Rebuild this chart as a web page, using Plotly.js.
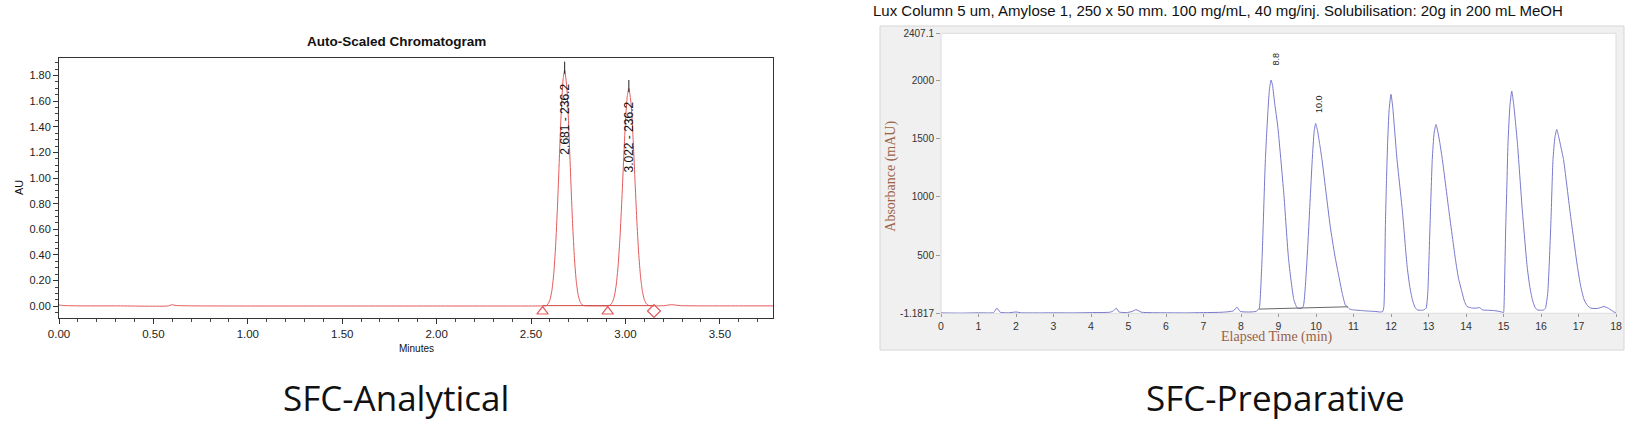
<!DOCTYPE html>
<html>
<head>
<meta charset="utf-8">
<script src="https://cdn.plot.ly/plotly-3.0.1.min.js"></script>
<style>
html,body{margin:0;padding:0;background:#fff;}
#chart{width:1639px;height:422px;}
</style>
</head>
<body>
<div id="chart"></div>
<script>
// ---------- SFC-Analytical (left) ----------
const anaTime = [0.00,0.02,0.10,0.30,0.58,0.597,0.62,0.70,1.00,1.50,2.00,2.50,2.56,2.58,
  2.59,2.60,2.61,2.62,2.63,2.64,2.65,2.66,2.67,2.678,2.69,2.70,2.71,2.72,2.73,2.74,2.75,2.76,2.77,2.78,
  2.85,2.91,2.92,2.93,2.94,2.95,2.96,2.97,2.98,2.99,3.00,3.01,3.018,3.03,3.04,3.05,3.06,3.07,3.08,3.09,3.10,3.11,3.12,3.13,
  3.20,3.245,3.29,3.40,3.60,3.783];
const anaAU = [0.010,0.006,0.003,0.003,0.003,0.012,0.006,0.003,0.002,0.002,0.002,0.002,0.003,0.004,
  0.018,0.049,0.118,0.249,0.468,0.781,1.156,1.520,1.774,1.843,1.692,1.382,1.003,0.646,0.371,0.187,0.085,0.034,0.012,0.005,
  0.003,0.004,0.011,0.030,0.071,0.154,0.296,0.511,0.802,1.131,1.436,1.644,1.700,1.577,1.321,0.998,0.679,0.415,0.230,0.114,0.051,0.021,0.008,0.004,
  0.004,0.012,0.005,0.003,0.003,0.003];
const anaApexTime = [2.678, 3.018];
const anaApexAU = [1.843, 1.700];
const anaPeakLabels = ["2.681 - 236.2", "3.022 - 236.2"];
const anaLabelAU = [1.461, 1.323];
const anaStartMarks = [2.561, 2.906];
const anaEndMarks = [3.151];
const anaBaselineAU = 0.005;
const anaYTicks = [0.00,0.20,0.40,0.60,0.80,1.00,1.20,1.40,1.60,1.80];

// ---------- SFC-Preparative (right) ----------
const prepTime = [0.0,0.5,1.0,1.4,1.49,1.58,1.8,2.0,2.15,2.6,3.0,3.5,4.0,4.5,4.6,4.67,4.75,4.95,5.1,5.2,5.35,5.6,6.0,6.5,7.0,7.5,7.8,7.89,7.98,8.2,8.4,8.47,
  8.49,8.56,8.65,8.72,8.76,8.80,8.84,8.90,8.98,9.14,9.27,9.41,9.50,9.60,
  9.66,9.76,9.84,9.90,9.95,9.99,10.04,10.10,10.16,10.27,10.38,10.50,10.61,10.70,10.78,10.85,10.90,11.0,11.3,11.6,11.72,11.78,
  11.81,11.85,11.88,11.91,11.95,12.00,12.05,12.10,12.16,12.30,12.43,12.50,12.57,12.64,12.70,12.80,12.88,12.92,
  12.94,12.98,13.04,13.10,13.15,13.20,13.25,13.30,13.37,13.54,13.72,13.80,13.90,13.96,14.03,14.15,14.27,14.36,14.44,14.6,14.8,14.95,15.0,
  15.01,15.06,15.09,15.12,15.17,15.22,15.27,15.32,15.37,15.50,15.63,15.70,15.77,15.84,15.90,16.00,16.08,16.10,
  16.12,16.18,16.26,16.32,16.37,16.42,16.47,16.53,16.60,16.79,16.97,17.06,17.15,17.24,17.33,17.5,17.6,17.68,17.78,17.9,18.0];
const prepMAU = [2,0,3,5,43,8,3,10,3,2,3,2,5,8,20,43,10,5,15,30,8,4,3,2,5,8,20,52,15,10,15,35,
  43,459,1321,1750,1930,2005,1960,1800,1608,1034,459,115,45,40,
  57,459,950,1321,1560,1632,1570,1450,1321,1030,746,500,315,170,72,50,35,28,20,14,10,14,
  57,747,1150,1466,1750,1882,1760,1560,1322,891,402,230,115,50,28,25,28,40,
  43,172,747,1321,1550,1623,1560,1470,1321,891,459,300,172,100,57,45,43,48,28,25,20,10,5,
  28,747,1100,1466,1780,1910,1800,1640,1466,891,402,230,115,50,28,25,28,35,
  43,172,747,1322,1510,1580,1520,1430,1322,833,402,230,115,65,43,40,50,57,45,20,0];
const prepBaseTime = [8.47, 10.85];
const prepBaseMAU = [35, 55];
const prepPeakLabels = ["8.8", "10.0"];
const prepLabelTime = [8.94, 10.10];
const prepLabelMAU = [2183, 1796];
const prepYTickVals = [-1.1817, 500, 1000, 1500, 2000, 2407.1];
const prepYTickText = ["-1.1817", "500", "1000", "1500", "2000", "2407.1"];

// ---------- figure ----------
const W = 1639, H = 422;
const px = v => v / W;
const py = v => 1 - v / H;
const RED = '#e35a5a';
const BLUE = '#7878cc';
const BROWN = '#9a6248';
const ARIAL = 'Arial, "Liberation Sans", sans-serif';
const SERIF = '"Liberation Serif", "DejaVu Serif", serif';

const apexX = [], apexY = [];
anaApexTime.forEach((t, i) => { apexX.push(t, t, null); apexY.push(anaApexAU[i] - 0.03, anaApexAU[i] + 0.065, null); });

const traces = [
  {x: anaTime, y: anaAU, xaxis: 'x', yaxis: 'y', mode: 'lines', line: {color: RED, width: 1, shape: 'spline', smoothing: 0.6}, hoverinfo: 'skip'},
  {x: [anaStartMarks[0], anaEndMarks[0]], y: [anaBaselineAU, anaBaselineAU], xaxis: 'x', yaxis: 'y', mode: 'lines', line: {color: '#d04848', width: 1}},
  {x: apexX, y: apexY, xaxis: 'x', yaxis: 'y', mode: 'lines', line: {color: '#222', width: 1}},
  {x: anaStartMarks, y: anaStartMarks.map(() => -0.041), xaxis: 'x', yaxis: 'y', mode: 'markers', marker: {symbol: 'triangle-up-open', size: 10, color: RED, line: {width: 1.2}}},
  {x: anaEndMarks, y: anaEndMarks.map(() => -0.037), xaxis: 'x', yaxis: 'y', mode: 'markers', marker: {symbol: 'diamond-open', size: 10, color: RED, line: {width: 1.2}}},
  {x: prepTime, y: prepMAU, xaxis: 'x2', yaxis: 'y2', mode: 'lines', line: {color: BLUE, width: 1, shape: 'spline', smoothing: 0.5}, hoverinfo: 'skip'},
  {x: prepBaseTime, y: prepBaseMAU, xaxis: 'x2', yaxis: 'y2', mode: 'lines', line: {color: '#666', width: 1}}
];

function paperText(text, x, y, font, angle) {
  return {text: text, xref: 'paper', yref: 'paper', x: px(x), y: py(y), xanchor: 'center', yanchor: 'middle',
    textangle: angle || 0, showarrow: false, font: font};
}
const annotations = [
  paperText('<b>Auto-Scaled Chromatogram</b>', 396, 41.7, {family: ARIAL, size: 13.5, color: '#111'}),
  paperText('AU', 19, 188, {family: ARIAL, size: 11, color: '#111'}, -90),
  paperText('Minutes', 417, 348, {family: ARIAL, size: 10, color: '#111'}),
  paperText('Lux Column 5 um, Amylose 1, 250 x 50 mm. 100 mg/mL, 40 mg/inj. Solubilisation: 20g in 200 mL MeOH', 1217.5, 11, {family: ARIAL, size: 15, color: '#111'}),
  paperText('Absorbance (mAU)', 890.7, 176, {family: SERIF, size: 14, color: BROWN}, -90),
  paperText('Elapsed Time (min)', 1276.7, 337, {family: SERIF, size: 14, color: BROWN}),
  paperText('SFC-Analytical', 396, 397, {family: '"Open Sans", sans-serif', size: 35, color: '#111'}),
  paperText('SFC-Preparative', 1275, 397, {family: '"Open Sans", sans-serif', size: 35, color: '#111'})
];
anaPeakLabels.forEach((t, i) => annotations.push({text: t, xref: 'x', yref: 'y', x: anaApexTime[i], y: anaLabelAU[i], xanchor: 'center', yanchor: 'middle', textangle: -90, showarrow: false, font: {family: ARIAL, size: 12, color: '#111'}}));
prepPeakLabels.forEach((t, i) => annotations.push({text: t, xref: 'x2', yref: 'y2', x: prepLabelTime[i], y: prepLabelMAU[i], xanchor: 'center', yanchor: 'middle', textangle: -90, showarrow: false, font: {family: ARIAL, size: 9, color: '#222'}}));

const layout = {
  width: W, height: H,
  margin: {l: 0, r: 0, t: 0, b: 0},
  paper_bgcolor: '#fff', plot_bgcolor: 'rgba(0,0,0,0)',
  showlegend: false,
  xaxis: {domain: [px(59), px(773.3)], range: [0, 3.783], dtick: 0.5, tick0: 0, tickformat: '.2f', ticks: 'outside', ticklen: 5, tickcolor: '#333',
    showline: true, mirror: true, linecolor: '#333', linewidth: 1, showgrid: false, zeroline: false,
    minor: {dtick: 0.1, ticks: 'outside', ticklen: 3, tickcolor: '#444', showgrid: false},
    tickfont: {family: ARIAL, size: 11.5, color: '#222'}, fixedrange: true},
  yaxis: {domain: [py(318.3), py(57.7)], range: [-0.094, 1.939], tickvals: anaYTicks, tickformat: '.2f', ticks: 'outside', ticklen: 5, tickcolor: '#333',
    showline: true, mirror: true, linecolor: '#333', linewidth: 1, showgrid: false, zeroline: false,
    minor: {dtick: 0.05, ticks: 'outside', ticklen: 3, tickcolor: '#444', showgrid: false},
    tickfont: {family: ARIAL, size: 11, color: '#222'}, fixedrange: true},
  xaxis2: {domain: [px(941), px(1616)], range: [0, 18], dtick: 1, tick0: 0, anchor: 'y2', ticks: 'outside', ticklen: 3, tickcolor: '#999',
    showline: false, showgrid: false, zeroline: false, tickfont: {family: ARIAL, size: 10.5, color: '#333'}, fixedrange: true},
  yaxis2: {domain: [py(313.3), py(33.3)], range: [-1.1817, 2407.1], anchor: 'x2', tickvals: prepYTickVals, ticktext: prepYTickText, ticks: 'outside', ticklen: 4, tickcolor: '#999',
    showline: false, showgrid: false, zeroline: false, tickfont: {family: ARIAL, size: 10, color: '#333'}, fixedrange: true},
  shapes: [
    {type: 'rect', xref: 'paper', yref: 'paper', x0: px(880), x1: px(1624), y0: py(350), y1: py(26), fillcolor: '#f0f0f0', line: {color: '#d6d6d6', width: 1}, layer: 'below'},
    {type: 'rect', xref: 'paper', yref: 'paper', x0: px(941), x1: px(1616), y0: py(313.3), y1: py(33.3), fillcolor: '#ffffff', line: {color: '#dcdcdc', width: 1}, layer: 'below'}
  ],
  annotations: annotations
};

Plotly.newPlot('chart', traces, layout, {displayModeBar: false, staticPlot: true});
</script>
</body>
</html>
